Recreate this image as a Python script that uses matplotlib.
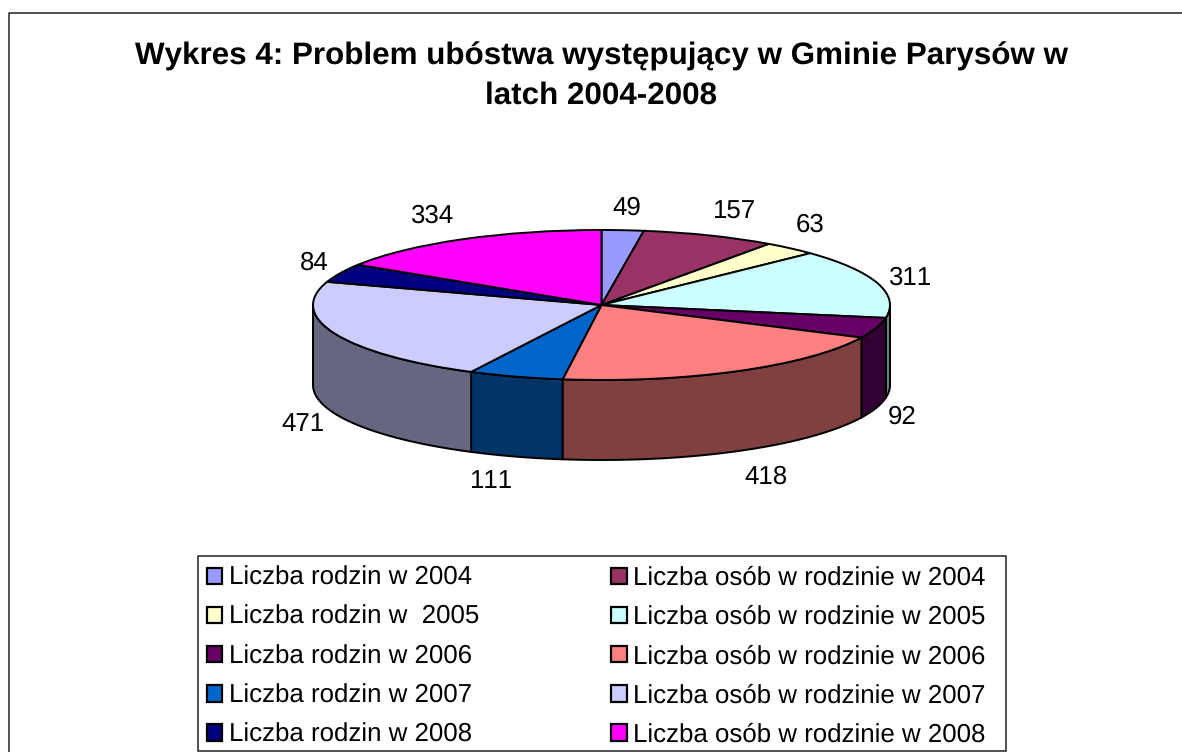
import numpy as np
import matplotlib
matplotlib.use('Agg')
import matplotlib.pyplot as plt
from matplotlib.patches import Patch, Rectangle

plt.rcParams['font.family'] = ['Liberation Sans', 'DejaVu Sans']
plt.rcParams['text.hinting'] = 'no_hinting'
plt.rcParams['text.kerning_factor'] = 6

# dane z wykresu
etykiety = ['Liczba rodzin w 2004', 'Liczba osób w rodzinie w 2004',
            'Liczba rodzin w  2005', 'Liczba osób w rodzinie w 2005',
            'Liczba rodzin w 2006', 'Liczba osób w rodzinie w 2006',
            'Liczba rodzin w 2007', 'Liczba osób w rodzinie w 2007',
            'Liczba rodzin w 2008', 'Liczba osób w rodzinie w 2008']
wartosci = [49, 157, 63, 311, 92, 418, 111, 471, 84, 334]
kolory = ['#9999FF', '#993366', '#FFFFCC', '#CCFFFF', '#660066',
          '#FF8080', '#0066CC', '#CCCCFF', '#000080', '#FF00FF']
kolory_bok = ['#4D4D80', '#4D1A33', '#808066', '#668080', '#330033',
              '#804040', '#003366', '#666680', '#000040', '#800080']
tytul = 'Wykres 4: Problem ubóstwa występujący w Gminie Parysów w\nlatch 2004-2008'

W, H = 1182, 752
fig = plt.figure(figsize=(W / 100, H / 100), dpi=100)

# warstwa w pikselach: ramka, tytul, etykiety, legenda
tlo = fig.add_axes([0, 0, 1, 1])
tlo.set_xlim(0, W)
tlo.set_ylim(H, 0)
tlo.axis('off')
# ramka wykresu jest obcieta z prawej i od dolu
tlo.plot([8.5, 8.5, W + 5], [H + 5, 12.5, 12.5], color='#222222', lw=1.1, clip_on=True)
tlo.text(601.5, 76, tytul, ha='center', va='center', fontsize=22.6, fontweight='bold',
         linespacing=1.42)

# kolo: srodek (601.5, 305), promienie 288.5 x 75 px
cx, cy, rx, ry, glebokosc = 601.5, 305, 288.5, 75, 80
ax = fig.add_axes([(cx - rx) / W, 1 - (cy + ry) / H, 2 * rx / W, 2 * ry / H], zorder=2)
ax.patch.set_alpha(0)

# boczna sciana - tylko przednia polowa
katy = np.cumsum([0] + wartosci) / sum(wartosci) * 360
h = glebokosc / ry
for i in range(len(wartosci)):
    a, b = max(katy[i], 90), min(katy[i + 1], 270)
    if b <= a:
        continue
    t = np.radians(np.linspace(a, b, 60))
    x, y = np.sin(t), np.cos(t)
    ax.fill(np.r_[x, x[::-1]], np.r_[y, y[::-1] - h], fc=kolory_bok[i], ec='black',
            lw=1.4, clip_on=False, joinstyle='round', zorder=1)

wedges, _ = ax.pie(wartosci, colors=kolory, startangle=90, counterclock=False, radius=1,
                   wedgeprops={'edgecolor': 'black', 'linewidth': 1.4, 'zorder': 2})
for w in wedges:
    w.set_clip_on(False)
ax.set_aspect('auto')
ax.set_xlim(-1, 1)
ax.set_ylim(-1, 1)

# etykiety wartosci
pozycje = [(627, 208), (734, 212), (810, 225), (910, 278), (902, 417),
           (766, 477), (491, 481), (303, 424), (314, 263), (432, 216)]
for v, (px, py) in zip(wartosci, pozycje):
    tlo.text(px, py, str(v), ha='center', va='center', fontsize=18.6)

# legenda - wypelniana wierszami jak w oryginale, ramka osobno
tlo.add_patch(Rectangle((198, 555.5), 808, 195, fc='white', ec='#222222', lw=1.1))
uchwyty = [Patch(fc=k, ec='black', lw=1.6, label=e) for k, e in zip(kolory, etykiety)]
kol1 = uchwyty[0::2]
kol2 = uchwyty[1::2]
leg = tlo.legend(handles=kol1 + kol2, ncol=2, loc='upper left',
                 bbox_to_anchor=(206.5 / W, 1 - 566 / H), bbox_transform=fig.transFigure,
                 borderaxespad=0, borderpad=0, fontsize=18.6, frameon=False,
                 handlelength=0.6, handleheight=0.6, handletextpad=0.27,
                 columnspacing=5.1, labelspacing=0.58)

fig.savefig('out.png', dpi=100, facecolor='white')
